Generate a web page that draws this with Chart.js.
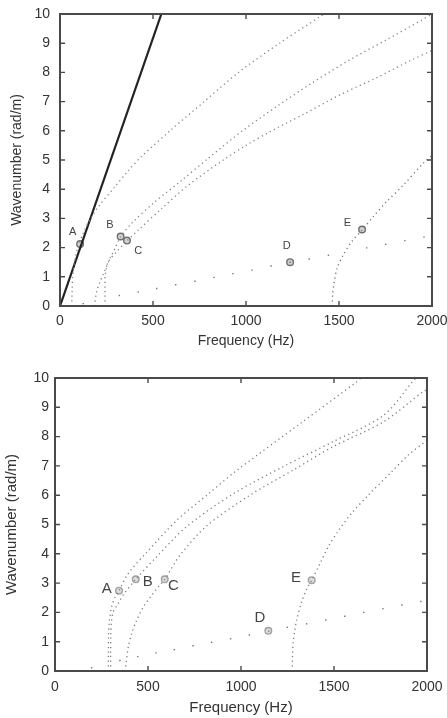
<!DOCTYPE html>
<html>
<head>
<meta charset="utf-8">
<script src="https://cdn.jsdelivr.net/npm/chart.js@4.4.1/dist/chart.umd.min.js"></script>
<style>
  html, body { margin: 0; padding: 0; background: #fff; }
  #wrap { position: relative; width: 447px; height: 718px; }
  canvas { position: absolute; left: 0; }
  #topChart { top: 0; }
  #botChart { top: 360px; }
</style>
</head>
<body>
<div id="wrap">
  <canvas id="topChart" width="447" height="355"></canvas>
  <canvas id="botChart" width="447" height="358"></canvas>
</div>
<script>
// ── axis ticks ──
const FREQ_TICKS = [0, 500, 1000, 1500, 2000];
const K_TICKS = [0, 1, 2, 3, 4, 5, 6, 7, 8, 9, 10];
const LETTERS = ['A', 'B', 'C', 'D', 'E'];

// ── top panel: [frequency Hz, wavenumber rad/m] ──
const TOP_AIR_LINE = [[0, 0], [545, 10]];
const TOP_MODE_1 = [[63,0],[65,0.5],[68,1.0],[78,1.5],[95,2.0],[125,2.5],[165,3.0],[206,3.4],[296,4.09],[365,4.62],[435,5.1],[600,6.05],[775,7.0],[960,8.0],[1180,9.0],[1398,9.91],[1425,10.03]];
const TOP_MODE_B = [[185,0],[197,0.49],[215,0.83],[238,1.17],[269,1.63],[296,1.98],[326,2.37],[385,2.83],[511,3.57],[654,4.3],[801,5.08],[985,6.02],[1165,6.83],[1353,7.63],[1550,8.4],[1756,9.12],[1944,9.79],[2000,10.0]];
const TOP_MODE_C = [[242,0],[242,0.5],[243,1.05],[260,1.52],[305,1.86],[360,2.23],[421,2.60],[547,3.34],[690,4.14],[878,5.0],[1000,5.5],[1129,5.97],[1308,6.56],[1505,7.23],[1703,7.82],[1882,8.4],[2000,8.75]];
const TOP_MODE_E = [[1464,0],[1466,0.4],[1474,0.8],[1490,1.3],[1523,1.75],[1568,2.2],[1624,2.6],[1684,3.06],[1756,3.57],[1846,4.14],[1953,4.89],[2000,5.15]];
const TOP_MODE_D = [[125,0.08],[319,0.36],[421,0.48],[520,0.6],[622,0.73],[726,0.85],[828,0.98],[930,1.11],[1032,1.23],[1135,1.37],[1237,1.5],[1340,1.61],[1443,1.74],[1649,1.99],[1751,2.11],[1854,2.24],[1957,2.36]];
const TOP_MARKERS = [[108,2.12],[326,2.38],[360,2.24],[1237,1.50],[1624,2.62]];
const TOP_LETTER_AT = [[68,2.54],[269,2.77],[421,1.89],[1219,2.06],[1545,2.86]];

// ── bottom panel ──
const BOT_MODE_A = [[287,0],[287,0.6],[288,1.2],[292,1.7],[305,2.2],[322,2.5],[344,2.74],[394,3.33],[493,4.05],[654,5.14],[820,6.02],[968,6.8],[1326,8.48],[1622,9.87],[1650,10.03]];
const BOT_MODE_B = [[299,0],[299,0.6],[300,1.2],[304,1.7],[313,2.02],[340,2.3],[367,2.6],[434,3.13],[547,3.9],[708,4.93],[959,6.05],[1228,6.98],[1496,7.83],[1765,8.72],[1926,9.9],[1945,10.02]];
const BOT_MODE_C = [[378,0],[382,0.25],[394,0.82],[412,1.28],[439,1.73],[475,2.19],[520,2.59],[555,2.87],[590,3.13],[672,3.95],[815,4.95],[1048,6.0],[1281,6.86],[1496,7.66],[1765,8.5],[1980,9.54],[2000,9.6]];
const BOT_MODE_E = [[1276,0],[1277,0.5],[1280,0.94],[1288,1.35],[1299,1.73],[1326,2.36],[1350,2.75],[1380,3.1],[1425,3.67],[1470,4.25],[1520,4.75],[1590,5.35],[1684,6.0],[1810,6.8],[1899,7.37],[1989,7.82],[2000,7.87]];
const BOT_MODE_D = [[197,0.11],[349,0.36],[445,0.49],[543,0.62],[642,0.73],[742,0.86],[842,0.98],[944,1.1],[1045,1.23],[1149,1.36],[1249,1.49],[1353,1.61],[1456,1.74],[1558,1.87],[1660,2.0],[1763,2.13],[1865,2.25],[1967,2.37]];
const BOT_MARKERS = [[344,2.74],[434,3.13],[590,3.13],[1147,1.37],[1380,3.1]];
const BOT_LETTER_AT = [[278,2.82],[498,3.04],[636,2.92],[1102,1.81],[1296,3.19]];

const FONT = "'Liberation Sans', Arial, Helvetica, sans-serif";
const pts = arr => arr.map(([x, y]) => ({ x, y }));

// dotted curve, gnuplot "with dots" look
function dotted(arr, color) {
  return {
    data: pts(arr), showLine: true, pointRadius: 0, borderColor: color,
    borderWidth: 1.3, borderDash: [1.2, 3.4], tension: 0.3, clip: 0,
  };
}
function sparseDots(arr, color) {
  return {
    data: pts(arr), showLine: false, pointRadius: 1, pointStyle: 'rect',
    backgroundColor: color, borderWidth: 0, clip: 0,
  };
}
function markers(arr, ring, fill) {
  return {
    data: pts(arr), showLine: false, pointRadius: 3.3, borderWidth: 1.4,
    borderColor: ring, backgroundColor: fill,
  };
}

// frame + inward ticks on all four sides + letter labels
const framePlugin = {
  id: 'frame',
  afterDraw(chart, args, opts) {
    const { ctx, chartArea: a, scales: { x, y } } = chart;
    const tl = 5;
    ctx.save();
    ctx.strokeStyle = '#4a4a4a';
    ctx.lineWidth = 1.4;
    ctx.beginPath();
    x.ticks.forEach(t => {
      const p = x.getPixelForValue(t.value);
      ctx.moveTo(p, a.bottom); ctx.lineTo(p, a.bottom - tl);
      ctx.moveTo(p, a.top); ctx.lineTo(p, a.top + tl);
    });
    y.ticks.forEach(t => {
      const p = y.getPixelForValue(t.value);
      ctx.moveTo(a.left, p); ctx.lineTo(a.left + tl, p);
      ctx.moveTo(a.right, p); ctx.lineTo(a.right - tl, p);
    });
    ctx.stroke();
    ctx.lineWidth = 2;
    ctx.strokeRect(a.left, a.top, a.right - a.left, a.bottom - a.top);

    ctx.fillStyle = '#444';
    ctx.font = opts.size + 'px ' + FONT;
    ctx.textAlign = 'center';
    ctx.textBaseline = 'middle';
    opts.at.forEach(([f, k], i) => {
      ctx.fillText(LETTERS[i], x.getPixelForValue(f), y.getPixelForValue(k));
    });
    ctx.restore();
  }
};

function axes(cfg) {
  return {
    x: {
      type: 'linear', min: 0, max: 2000,
      afterBuildTicks: s => { s.ticks = FREQ_TICKS.map(v => ({ value: v })); },
      afterFit: s => { s.height = cfg.xh; s.paddingLeft = 0; s.paddingRight = 0; },
      grid: { display: false, drawTicks: false },
      border: { display: false },
      ticks: { color: '#333', padding: cfg.xpad, font: { family: FONT, size: 14 }, callback: v => String(v) },
      title: { display: true, text: 'Frequency (Hz)', color: '#333',
               font: { family: FONT, size: cfg.tsize }, padding: { top: 0, bottom: cfg.xtpad } },
    },
    y: {
      type: 'linear', min: 0, max: 10,
      afterBuildTicks: s => { s.ticks = K_TICKS.map(v => ({ value: v })); },
      afterFit: s => { s.width = cfg.yw; s.paddingTop = 0; s.paddingBottom = 0; },
      grid: { display: false, drawTicks: false },
      border: { display: false },
      ticks: { color: '#333', padding: cfg.ypad, font: { family: FONT, size: 14 }, callback: v => String(v) },
      title: { display: true, text: 'Wavenumber (rad/m)', color: '#333',
               font: { family: FONT, size: cfg.tsize }, padding: { top: cfg.ytpad, bottom: 0 } },
    },
  };
}

function buildPanel(id, datasets, cfg) {
  new Chart(document.getElementById(id), {
    type: 'scatter',
    data: { datasets },
    options: {
      responsive: false, animation: false, devicePixelRatio: 1,
      layout: { autoPadding: false, padding: { top: cfg.top, right: cfg.right, left: 0, bottom: 0 } },
      plugins: {
        legend: { display: false }, tooltip: { enabled: false },
        frame: { at: cfg.letters, size: cfg.lsize },
      },
      scales: axes(cfg),
    },
    plugins: [framePlugin],
  });
}

buildPanel('topChart', [
  dotted(TOP_MODE_1, '#808080'),
  dotted(TOP_MODE_B, '#808080'),
  dotted(TOP_MODE_C, '#808080'),
  dotted(TOP_MODE_E, '#707070'),
  sparseDots(TOP_MODE_D, '#777'),
  { data: pts(TOP_AIR_LINE), showLine: true, pointRadius: 0, borderColor: '#222', borderWidth: 2.2, clip: 0 },
  markers(TOP_MARKERS, '#6e6e6e', '#d0d0d0'),
], { top: 14, right: 15, xh: 49, yw: 60, xpad: 7, ypad: 10, xtpad: 5, ytpad: 8.5, tsize: 14, lsize: 11, letters: TOP_LETTER_AT });

buildPanel('botChart', [
  dotted(BOT_MODE_A, '#7a7a7a'),
  dotted(BOT_MODE_B, '#7a7a7a'),
  dotted(BOT_MODE_C, '#7a7a7a'),
  dotted(BOT_MODE_E, '#7a7a7a'),
  sparseDots(BOT_MODE_D, '#777'),
  markers(BOT_MARKERS, '#a0a0a0', '#dcdcdc'),
], { top: 18, right: 20, xh: 47, yw: 55, xpad: 8, ypad: 6, xtpad: 1, ytpad: 3, tsize: 15, lsize: 15, letters: BOT_LETTER_AT });
</script>
</body>
</html>
